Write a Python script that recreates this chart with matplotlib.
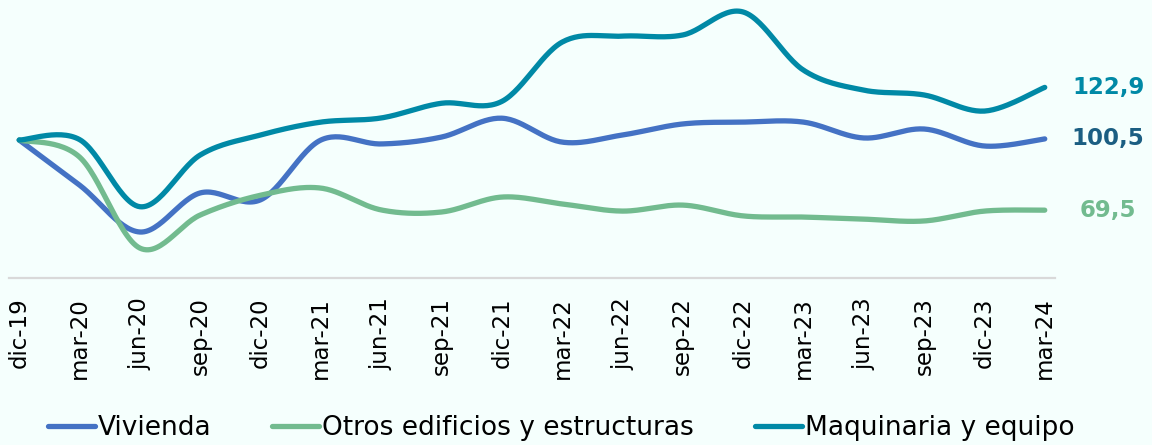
import numpy as np
import matplotlib
matplotlib.use("Agg")
import matplotlib.pyplot as plt

# Datos (índice, dic-19 = 100)
fechas = ["dic-19", "mar-20", "jun-20", "sep-20", "dic-20", "mar-21", "jun-21",
          "sep-21", "dic-21", "mar-22", "jun-22", "sep-22", "dic-22", "mar-23",
          "jun-23", "sep-23", "dic-23", "mar-24"]

vivienda = [100, 80.4, 60.0, 77.0, 74.0, 100.0, 98.3, 101.3, 109.5, 99.1,
            102.2, 107.0, 107.8, 107.8, 100.9, 104.8, 97.4, 100.5]
otros = [100, 92.6, 53.0, 67.4, 76.0, 79.1, 69.6, 68.7, 75.2, 72.2,
         69.1, 71.7, 67.0, 66.5, 65.6, 64.8, 69.1, 69.5]
maquinaria = [100, 100.2, 71.0, 93.5, 102.2, 107.8, 109.6, 116.0, 116.8, 142.6,
              145.2, 145.7, 155.7, 130.4, 121.7, 119.6, 112.6, 122.9]

series = ["Vivienda", "Otros edificios y estructuras", "Maquinaria y equipo"]
colores = ["#4472C4", "#72BB8F", "#0089A6"]
etiquetas = ["100,5", "69,5", "122,9"]
colores_etiqueta = ["#1B5E82", "#72BB8F", "#0089A6"]

fondo = "#F5FFFD"


def suavizar(y, n=30):
    # curva suavizada tipo Excel (Catmull-Rom con Bezier cúbicas)
    x = np.arange(len(y), dtype=float)
    y = np.asarray(y, dtype=float)
    px = np.concatenate([[x[0]], x, [x[-1]]])
    py = np.concatenate([[y[0]], y, [y[-1]]])
    t = np.linspace(0, 1, n)[:, None]
    xs, ys = [], []
    for i in range(len(y) - 1):
        p0 = np.array([px[i + 1], py[i + 1]])
        p3 = np.array([px[i + 2], py[i + 2]])
        p1 = p0 + (p3 - np.array([px[i], py[i]])) / 6
        p2 = p3 - (np.array([px[i + 3], py[i + 3]]) - p0) / 6
        pts = ((1 - t) ** 3) * p0 + 3 * ((1 - t) ** 2) * t * p1 + 3 * (1 - t) * t ** 2 * p2 + t ** 3 * p3
        xs.append(pts[:, 0])
        ys.append(pts[:, 1])
    return np.concatenate(xs), np.concatenate(ys)


fig = plt.figure(figsize=(11.52, 4.45), dpi=100, facecolor=fondo)
ax = fig.add_axes([0.0078, 0.3753, 0.908, 0.62], facecolor=fondo)

for nombre, datos, color in zip(series, [vivienda, otros, maquinaria], colores):
    xs, ys = suavizar(datos)
    ax.plot(xs, ys, color=color, lw=3.8, solid_capstyle="round", label=nombre)

for datos, texto, color in zip([vivienda, otros, maquinaria], etiquetas, colores_etiqueta):
    ax.text(18.05, datos[-1], texto, color=color, fontsize=16.5, fontweight="bold",
            ha="center", va="center", clip_on=False)

ax.set_xlim(-0.17, 17.17)
ax.set_ylim(40, 160)
ax.set_xticks(range(len(fechas)))
ax.set_xticklabels(fechas, rotation=90, fontsize=16.5)
ax.tick_params(axis="x", length=0, pad=14)
ax.set_yticks([])
for lado in ["top", "right", "left"]:
    ax.spines[lado].set_visible(False)
ax.spines["bottom"].set_color("#D9D9D9")
ax.spines["bottom"].set_linewidth(1.6)

fig.legend(loc="center", bbox_to_anchor=(0.487, 0.038), ncol=3, frameon=False,
           fontsize=19, handlelength=1.78, handletextpad=0.12, columnspacing=2.3)

fig.savefig("out.png", dpi=100, facecolor=fondo)
